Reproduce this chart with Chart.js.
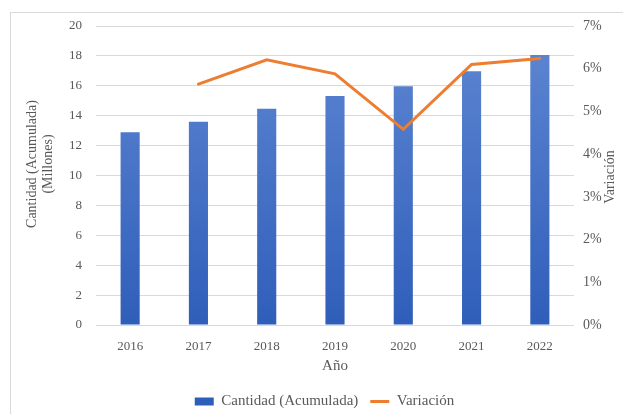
<!DOCTYPE html>
<html><head><meta charset="utf-8">
<script src="https://cdn.jsdelivr.net/npm/chart.js@4/dist/chart.umd.min.js"></script>
<style>
html,body{margin:0;padding:0;background:#fff;width:623px;height:414px;overflow:hidden}
#frame{position:absolute;left:10px;top:12px;width:700px;height:500px;border:1px solid #d9d9d9;box-sizing:border-box}
#wrap{position:absolute;left:0;top:0;width:623px;height:419px}
</style></head>
<body>
<div id="frame"></div>
<div id="wrap"><canvas id="c"></canvas></div>
<script>
const years = ['2016','2017','2018','2019','2020','2021','2022'];
const cantidad = [12.89, 13.6, 14.47, 15.32, 15.97, 16.97, 18.06];
const variacion = [null, 5.64, 6.21, 5.88, 4.58, 6.10, 6.24];
const leftTitle = ['Cantidad (Acumulada)', '(Millones)'];
const rightTitle = 'Variación';
const xTitle = 'Año';
const seriesNames = ['Cantidad (Acumulada)', 'Variación'];

const TXT = '#595959';
const FONT = 'Liberation Serif';

const titlesPlugin = {
  id: 'titles',
  afterDraw(chart) {
    const ctx = chart.ctx;
    ctx.save();
    ctx.fillStyle = TXT;
    ctx.textAlign = 'center';
    ctx.textBaseline = 'middle';
    ctx.font = '14px "' + FONT + '"';
    ctx.save(); ctx.translate(32, 164); ctx.rotate(-Math.PI/2); ctx.fillText(leftTitle[0], 0, 0); ctx.restore();
    ctx.save(); ctx.translate(48, 164); ctx.rotate(-Math.PI/2); ctx.fillText(leftTitle[1], 0, 0); ctx.restore();
    ctx.save(); ctx.translate(610, 177); ctx.rotate(-Math.PI/2); ctx.fillText(rightTitle, 0, 0); ctx.restore();
    ctx.font = '15px "' + FONT + '"';
    const a = chart.chartArea;
    ctx.fillText(xTitle, (a.left + a.right)/2, 366);
    ctx.restore();
  }
};

function barGradient(c) {
  const chart = c.chart;
  const a = chart.chartArea;
  if (!a) return '#4472C4';
  const g = chart.ctx.createLinearGradient(0, a.bottom, 0, a.top);
  g.addColorStop(0, '#2F5EBA');
  g.addColorStop(1, '#5F87D2');
  return g;
}

new Chart(document.getElementById('c'), {
  data: {
    labels: years,
    datasets: [
      {
        type: 'bar', label: seriesNames[0], data: cantidad, yAxisID: 'y',
        backgroundColor: barGradient, borderWidth: 0,
        barPercentage: 0.28, categoryPercentage: 1, order: 1, pointStyle: 'rect'
      },
      {
        type: 'line', label: seriesNames[1], data: variacion, yAxisID: 'y1',
        borderColor: '#ED7D31', backgroundColor: '#ED7D31', borderWidth: 3,
        pointRadius: 0, tension: 0, order: 0, pointStyle: 'line', borderCapStyle: 'round'
      }
    ]
  },
  options: {
    responsive: true, maintainAspectRatio: false, animation: false,
    layout: { padding: { top: 26, left: 26, right: 0, bottom: 0 } },
    plugins: {
      tooltip: { enabled: false },
      legend: {
        position: 'bottom',
        labels: {
          usePointStyle: true, pointStyleWidth: 19, boxHeight: 8,
          color: TXT, font: { family: FONT, size: 15 }, padding: 12,
          sort: (a, b) => a.datasetIndex - b.datasetIndex
        }
      }
    },
    scales: {
      x: {
        grid: { display: false }, border: { display: false },
        ticks: { color: TXT, font: { family: FONT, size: 13 }, padding: 6, maxRotation: 0 },
        afterFit(s) { s.height = s.chart.height - s.chart.legend.height - 325; }
      },
      y: {
        position: 'left', min: 0, max: 20,
        grid: { color: '#d9d9d9', drawTicks: false }, border: { display: false },
        ticks: { stepSize: 2, color: TXT, font: { family: FONT, size: 13 }, padding: 14 },
        afterFit(s) { s.width = 70; }
      },
      y1: {
        position: 'right', min: 0, max: 7,
        grid: { display: false, drawTicks: false }, border: { display: false },
        ticks: { stepSize: 1, color: TXT, font: { family: FONT, size: 14 }, padding: 9,
                 callback: v => v + '%' },
        afterFit(s) { s.width = 49; }
      }
    }
  },
  plugins: [titlesPlugin]
});
</script>
</body></html>
